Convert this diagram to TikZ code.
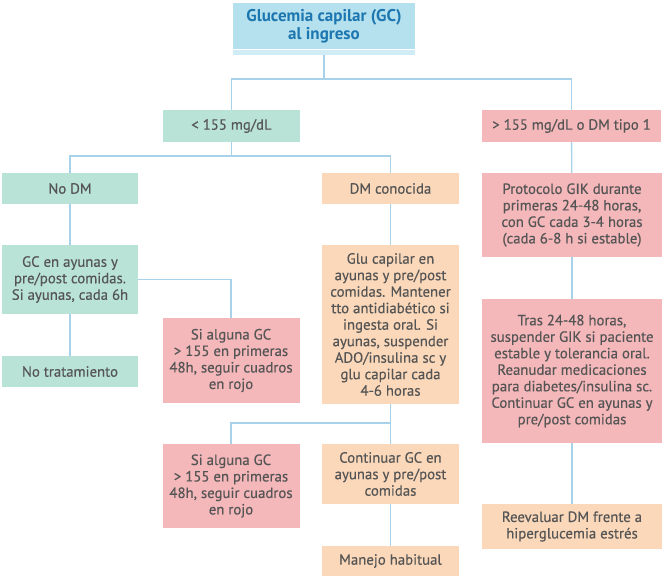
\documentclass[tikz,border=0pt]{standalone}
\usepackage{fontspec}
\setmainfont{PT Sans}
\newfontfamily\medfont{PT Sans}[FakeBold=0.35]
\usepackage{tikz}
\usetikzlibrary{positioning}

\definecolor{mint}{RGB}{186,227,215}
\definecolor{peach}{RGB}{251,216,185}
\definecolor{rose}{RGB}{244,183,186}
\definecolor{sky}{RGB}{181,225,238}
\definecolor{skyband}{RGB}{208,237,246}
\definecolor{wire}{RGB}{168,210,234}
\definecolor{ink}{RGB}{85,85,85}
\definecolor{title}{RGB}{28,118,176}

\tikzset{
  box/.style={draw=none, align=center, inner sep=0pt, text=ink,
    font=\medfont\fontsize{14.8}{16.5}\selectfont},
  nodm/.style={box, fill=mint},
  dm/.style={box, fill=peach},
  high/.style={box, fill=rose},
  link/.style={draw=wire, line width=1.3pt}
}

\begin{document}
\begin{tikzpicture}[x=1pt, y=-1pt]
\useasboundingbox (0,0) rectangle (664,579);

% Define nodes
\node[box, fill=sky, text=title, font=\fontsize{17}{18}\selectfont\bfseries,
  minimum width=182pt, minimum height=46pt] (ingreso) at (324,26)
  {Glucemia capilar (GC)\\al ingreso};
\node[nodm, minimum width=137pt, minimum height=32pt] (bajo) at (231.5,126) {< 155 mg/dL};
\node[high, minimum width=179pt, minimum height=32pt] (alto) at (571.5,126) {> 155 mg/dL o DM tipo 1};

\node[nodm, minimum width=136pt, minimum height=31pt] (sindm) at (70,188.5) {No DM};
\node[nodm, minimum width=136pt, minimum height=69pt] (ayunas) at (70,279.5)
  {GC en ayunas y\\pre/post comidas.\\Si ayunas, cada 6h};
\node[nodm, minimum width=136pt, minimum height=31pt] (notto) at (70,371.5) {No tratamiento};

\node[high, minimum width=137pt, minimum height=85pt] (rojoa) at (231,360.5)
  {Si alguna GC\\> 155 en primeras\\48h, seguir cuadros\\en rojo};
\node[high, minimum width=137pt, minimum height=84pt] (rojob) at (231,486)
  {Si alguna GC\\> 155 en primeras\\48h, seguir cuadros\\en rojo};

\node[dm, minimum width=137pt, minimum height=31pt] (conocida) at (390.5,188.5) {DM conocida};
\node[dm, minimum width=137pt, minimum height=159pt] (glu) at (390.5,324.5)
  {Glu capilar en\\ayunas y pre/post\\comidas. Mantener\\tto antidiabético si\\ingesta oral. Si\\ayunas, suspender\\ADO/insulina sc y\\glu capilar cada\\4-6 horas};
\node[dm, minimum width=137pt, minimum height=60pt] (seguir) at (390.5,474)
  {Continuar GC en\\ayunas y pre/post\\comidas};
\node[dm, minimum width=137pt, minimum height=30pt] (manejo) at (390.5,561) {Manejo habitual};

\node[high, minimum width=180pt, minimum height=84pt] (gik) at (572,215)
  {Protocolo GIK durante\\primeras 24-48 horas,\\con GC cada 3-4 horas\\(cada 6-8 h si estable)};
\node[high, minimum width=180pt, minimum height=144pt] (tras) at (572,371)
  {Tras 24-48 horas,\\suspender GIK si paciente\\estable y tolerancia oral.\\Reanudar medicaciones\\para diabetes/insulina sc.\\Continuar GC en ayunas y\\pre/post comidas};
\node[dm, minimum width=180pt, minimum height=45pt] (reeval) at (572,526.5)
  {Reevaluar DM frente a\\hiperglucemia estrés};

% Band under the title box
\fill[skyband] ([yshift=-1pt]ingreso.south west) rectangle ([yshift=-6pt]ingreso.south east);
\coordinate (banda) at ([yshift=-6pt]ingreso.south);

% Edges
\coordinate (j1) at (324,79);
\coordinate (j2) at (231.5,156);
\coordinate (j3) at (390.5,423);
\draw[link] (banda) -- (j1);
\draw[link] (bajo.north) |- (j1) -| (alto.north);
\draw[link] (bajo) -- (j2);
\draw[link] (sindm.north) |- (j2) -| (conocida.north);
\draw[link] (sindm) -- (ayunas);
\draw[link] (ayunas) -- (notto);
\draw[link] (ayunas.east) -| (rojoa.north);
\draw[link] (conocida) -- (glu);
\draw[link] (glu) -- (seguir);
\draw[link] (j3) -| (rojob.north);
\draw[link] (seguir) -- (manejo);
\draw[link] (alto) -- (gik);
\draw[link] (gik) -- (tras);
\draw[link] (tras) -- (reeval);
\end{tikzpicture}
\end{document}
